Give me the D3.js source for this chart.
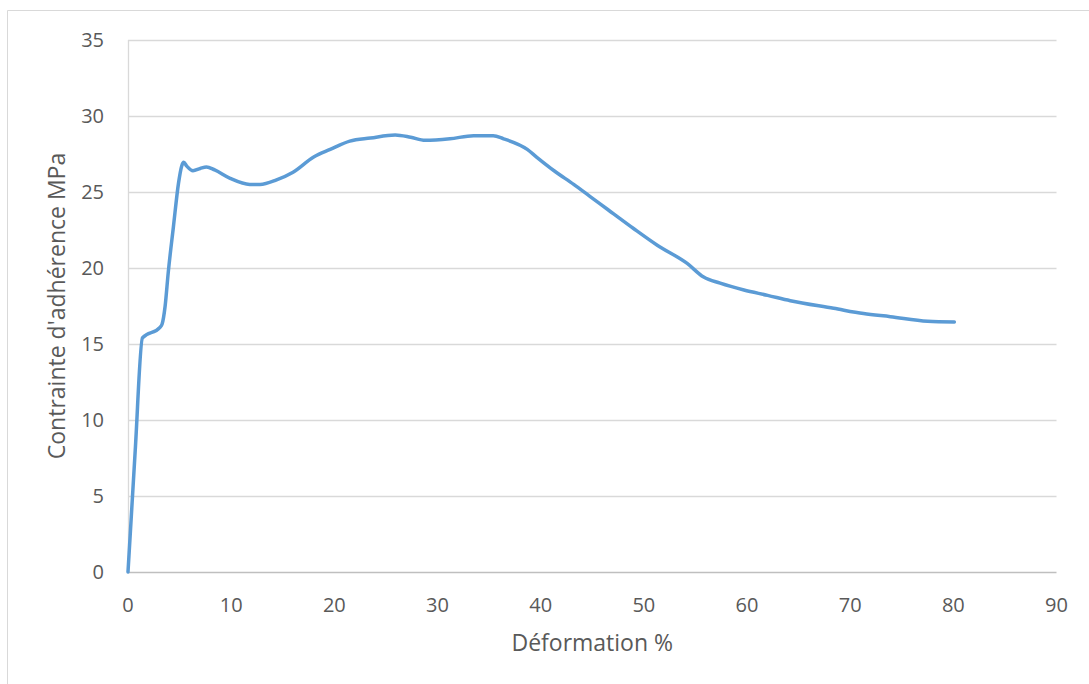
<!DOCTYPE html>
<html>
<head>
<meta charset="utf-8">
<script src="https://cdn.jsdelivr.net/npm/d3@7"></script>
<style>
  html, body { margin: 0; padding: 0; background: #fff; }
  svg { display: block; }
  text { font-family: "Open Sans", "Liberation Sans", sans-serif; }
</style>
</head>
<body>
<svg id="chart" width="1089" height="684"></svg>
<script>
// Data
const deformation = [0, 0.7, 1.4, 3.1, 3.3, 3.6, 3.9, 4.4, 4.9, 5.2, 5.4, 5.7, 6.3, 7.0, 7.6, 8.4, 9.9, 11.8, 12.8, 14.4, 16.0, 18.0, 19.6, 21.5, 23.5, 25.9, 27.4, 28.8, 31.2, 33.5, 35.4, 36.4, 38.7, 39.6, 41.3, 43.2, 44.8, 46.5, 49.0, 51.3, 54.2, 55.8, 57.4, 59.7, 62.0, 64.2, 68.4, 71.3, 73.9, 77.5, 80.1];
const contrainte  = [0, 8.0, 15.4, 16.1, 16.3, 17.5, 19.7, 22.7, 25.6, 26.7, 26.95, 26.7, 26.4, 26.55, 26.65, 26.45, 25.9, 25.5, 25.5, 25.8, 26.3, 27.3, 27.8, 28.35, 28.55, 28.75, 28.6, 28.4, 28.5, 28.7, 28.7, 28.5, 27.8, 27.3, 26.4, 25.5, 24.7, 23.85, 22.6, 21.5, 20.3, 19.4, 19.0, 18.55, 18.2, 17.85, 17.35, 17.0, 16.8, 16.5, 16.45];
const xTicks = [0, 10, 20, 30, 40, 50, 60, 70, 80, 90];
const yTicks = [0, 5, 10, 15, 20, 25, 30, 35];
const xTitle = "Déformation %";
const yTitle = "Contrainte d'adhérence MPa";

const svg = d3.select("#chart");
const pLeft = 128, pRight = 1056.5, pTop = 40, pBottom = 572;

// outer chart border (partially visible)
svg.append("path")
  .attr("d", "M1089,10.5 H7.5 V684")
  .attr("fill", "none").attr("stroke", "#d9d9d9").attr("stroke-width", 1);

const x = d3.scaleLinear().domain([0, 90]).range([pLeft, pRight]);
const y = d3.scaleLinear().domain([0, 35]).range([pBottom, pTop]);

// horizontal gridlines
svg.append("g")
  .selectAll("line").data(yTicks.filter(d => d !== 0)).join("line")
  .attr("x1", pLeft).attr("x2", pRight)
  .attr("y1", d => Math.round(y(d)) + 0.5).attr("y2", d => Math.round(y(d)) + 0.5)
  .attr("stroke", "#d9d9d9").attr("stroke-width", 1.3);

// y axis line
svg.append("line")
  .attr("x1", pLeft + 0.5).attr("x2", pLeft + 0.5).attr("y1", pTop).attr("y2", pBottom)
  .attr("stroke", "#d9d9d9").attr("stroke-width", 1.3);

// x axis line
svg.append("line")
  .attr("x1", pLeft).attr("x2", pRight)
  .attr("y1", Math.round(y(0)) + 0.5).attr("y2", Math.round(y(0)) + 0.5)
  .attr("stroke", "#bfbfbf").attr("stroke-width", 1.3);

// tick labels
svg.append("g").selectAll("text").data(yTicks).join("text")
  .attr("x", 104).attr("y", d => y(d))
  .attr("dy", "0.36em").attr("text-anchor", "end")
  .attr("font-size", 20).attr("fill", "#595959")
  .text(d => d);

svg.append("g").selectAll("text").data(xTicks).join("text")
  .attr("x", d => x(d)).attr("y", 605)
  .attr("dy", "0.36em").attr("text-anchor", "middle")
  .attr("font-size", 20).attr("fill", "#595959")
  .text(d => d);

// axis titles
svg.append("text")
  .attr("x", (pLeft + pRight) / 2).attr("y", 643).attr("dy", "0.36em")
  .attr("text-anchor", "middle").attr("font-size", 23).attr("fill", "#595959")
  .text(xTitle);

svg.append("text")
  .attr("transform", `translate(57,${(pTop + pBottom) / 2}) rotate(-90)`)
  .attr("dy", "0.36em")
  .attr("text-anchor", "middle").attr("font-size", 23).attr("fill", "#595959")
  .text(yTitle);

// data line
const data = deformation.map((d, i) => [d, contrainte[i]]);
svg.append("path")
  .datum(data)
  .attr("fill", "none").attr("stroke", "#5b9bd5").attr("stroke-width", 3.5)
  .attr("stroke-linejoin", "round").attr("stroke-linecap", "round")
  .attr("d", d3.line().x(d => x(d[0])).y(d => y(d[1])).curve(d3.curveMonotoneX));
</script>
</body>
</html>
